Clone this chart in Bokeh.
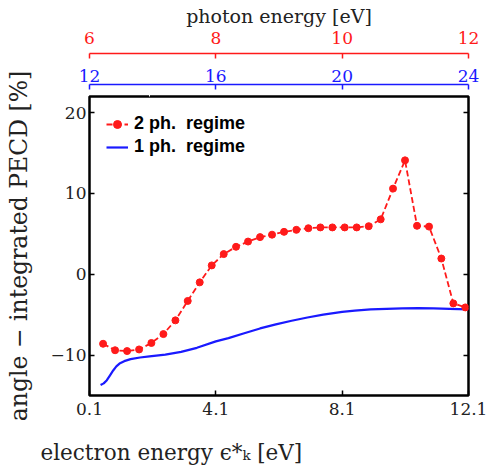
from bokeh.plotting import figure
from bokeh.models import (Range1d, LinearAxis, Legend, LegendItem, Title, FixedTicker,
                          CustomLabelingPolicy)
from bokeh.embed import file_html
from bokeh.resources import INLINE

# ---- data ----
# 2-photon regime (red, dashed with markers)
x_2ph = [0.53, 0.91, 1.29, 1.67, 2.06, 2.44, 2.82, 3.21, 3.59, 3.97, 4.35, 4.74,
         5.12, 5.50, 5.88, 6.26, 6.65, 7.03, 7.41, 7.79, 8.18, 8.56, 8.94, 9.32,
         9.71, 10.09, 10.47, 10.85, 11.24, 11.62, 12.00]
y_2ph = [-8.6, -9.4, -9.5, -9.3, -8.5, -7.4, -5.7, -3.3, -1.0, 1.1, 2.5, 3.4,
         4.05, 4.6, 4.9, 5.25, 5.5, 5.7, 5.8, 5.8, 5.8, 5.8, 5.95, 6.8,
         10.6, 14.1, 6.0, 5.9, 1.95, -3.6, -4.1]
# 1-photon regime (blue, solid)
x_1ph = [0.45, 0.55, 0.65, 0.75, 0.85, 0.95, 1.05, 1.2, 1.4, 1.7, 2.0, 2.5, 3.0,
         3.5, 4.1, 4.5, 5.0, 5.5, 6.0, 6.5, 7.0, 7.5, 8.1, 8.5, 9.0, 9.5, 10.0,
         10.5, 11.0, 11.5, 12.1]
y_1ph = [-13.7, -13.5, -13.1, -12.5, -11.9, -11.4, -11.05, -10.75, -10.5, -10.3,
         -10.15, -9.95, -9.6, -9.1, -8.3, -7.9, -7.3, -6.7, -6.2, -5.75, -5.35,
         -5.0, -4.65, -4.5, -4.35, -4.27, -4.22, -4.2, -4.22, -4.27, -4.35]

x_ticks = [0.1, 4.1, 8.1, 12.1]
x_tick_labels = ["0.1", "4.1", "8.1", "12.1"]
y_ticks = [-10, 0, 10, 20]
y_tick_labels = ["\u221210", "0", "10", "20"]
red_ticks = [6, 8, 10, 12]          # photon energy, 2 ph.
blue_ticks = [12, 16, 20, 24]       # photon energy, 1 ph.

RED = "#ff1a1a"
BLUE = "#1a1aff"
SERIF = "DejaVu Serif"
TXT = "#222222"

HIDE_LABELS = "for (const i of indices) { indices.unset(i) }\nreturn indices"

p = figure(width=489, height=475, x_range=(0.1, 12.1), y_range=(-15, 22),
           output_backend="svg", toolbar_location=None,
           min_border_left=89, min_border_right=21, min_border_top=96,
           min_border_bottom=80)
p.extra_x_ranges = {"blue": Range1d(12, 24), "red": Range1d(6, 12)}
p.xgrid.visible = False
p.ygrid.visible = False
p.outline_line_color = "black"
p.outline_line_width = 2.5
p.outline_line_alpha = 1.0
p.background_fill_color = "white"
p.border_fill_color = "white"


def style_black(ax):
    ax.axis_line_color = None
    ax.major_tick_in = 5
    ax.major_tick_out = 0
    ax.major_tick_line_color = "black"
    ax.major_tick_line_width = 1.5
    ax.minor_tick_line_color = None
    ax.major_label_text_font = SERIF
    ax.major_label_text_font_size = "17px"
    ax.major_label_text_color = TXT
    ax.axis_label_text_font = SERIF
    ax.axis_label_text_font_style = "normal"
    ax.axis_label_text_color = TXT


xa = p.xaxis[0]
style_black(xa)
xa.ticker = FixedTicker(ticks=x_ticks)
xa.major_label_overrides = dict(zip(x_ticks, x_tick_labels))
xa.major_label_standoff = 7

ya = p.yaxis[0]
style_black(ya)
ya.ticker = FixedTicker(ticks=y_ticks)
ya.major_label_overrides = dict(zip(y_ticks, y_tick_labels))
ya.major_label_standoff = 3
ya.axis_label = "angle \u2212 integrated PECD [%]"
ya.axis_label_text_font_size = "23.5px"
ya.axis_label_standoff = 15

# right frame edge: inward ticks, no labels
ra = LinearAxis()
style_black(ra)
ra.ticker = FixedTicker(ticks=y_ticks)
ra.major_label_text_font_size = "1px"
ra.major_label_standoff = 0
ra.major_label_policy = CustomLabelingPolicy(code=HIDE_LABELS)
p.add_layout(ra, "right")


def spacer(size):
    # invisible axis used only to open a gap between stacked side panels
    s = LinearAxis(ticker=FixedTicker(ticks=[2.0]))
    s.axis_line_color = None
    s.major_tick_line_color = "white"
    s.major_tick_line_width = 1
    s.minor_tick_line_color = None
    s.major_tick_in = 0
    s.major_tick_out = size
    s.major_label_standoff = 0
    s.major_label_text_font_size = "1px"
    s.major_label_policy = CustomLabelingPolicy(code=HIDE_LABELS)
    return s


def style_top(ax, color, ticks):
    ax.ticker = FixedTicker(ticks=ticks)
    ax.axis_line_color = color
    ax.axis_line_width = 1.5
    ax.major_tick_line_color = color
    ax.major_tick_line_width = 1.5
    ax.major_tick_in = 5
    ax.major_tick_out = 0
    ax.minor_tick_line_color = None
    ax.major_label_text_color = color
    ax.major_label_text_font = SERIF
    ax.major_label_text_font_size = "17px"


p.add_layout(spacer(8), "above")

ba = LinearAxis(x_range_name="blue")
style_top(ba, BLUE, blue_ticks)
ba.major_label_standoff = 3
p.add_layout(ba, "above")

p.add_layout(spacer(9), "above")

rda = LinearAxis(x_range_name="red")
style_top(rda, RED, red_ticks)
rda.major_label_standoff = 10
rda.axis_label = "photon energy [eV]"
rda.axis_label_text_font = SERIF
rda.axis_label_text_font_size = "19px"
rda.axis_label_text_font_style = "normal"
rda.axis_label_text_color = TXT
rda.axis_label_standoff = 2
p.add_layout(rda, "above")

# gap between the tick labels and the x label
p.add_layout(spacer(9), "below")

# x label (shifted left as in the reference)
xt = Title(text="electron energy \u03f5*\u2096 [eV]", align="left", offset=-49,
           text_font=SERIF, text_font_size="21.5px", text_font_style="normal",
           text_color=TXT, standoff=15)
p.add_layout(xt, "below")

# data
r1 = p.line(x_1ph, y_1ph, line_color=BLUE, line_width=2.2)
r2l = p.line(x_2ph, y_2ph, line_color=RED, line_width=1.8, line_dash="6 3")
r2s = p.scatter(x_2ph, y_2ph, size=7, fill_color=RED, line_color=RED)

legend = Legend(items=[LegendItem(label="2 ph.\u00a0 regime", renderers=[r2l, r2s]),
                       LegendItem(label="1 ph.\u00a0 regime", renderers=[r1])],
                location="top_left")
legend.margin = 17
legend.padding = 10
legend.spacing = 2
legend.glyph_width = 22
legend.glyph_height = 20
legend.label_standoff = 6
legend.label_text_font = "Liberation Sans"
legend.label_text_font_style = "bold"
legend.label_text_font_size = "18px"
legend.label_text_color = "black"
legend.border_line_color = None
legend.background_fill_alpha = 0
p.add_layout(legend)

open("out.html", "w").write(file_html(p, INLINE))
